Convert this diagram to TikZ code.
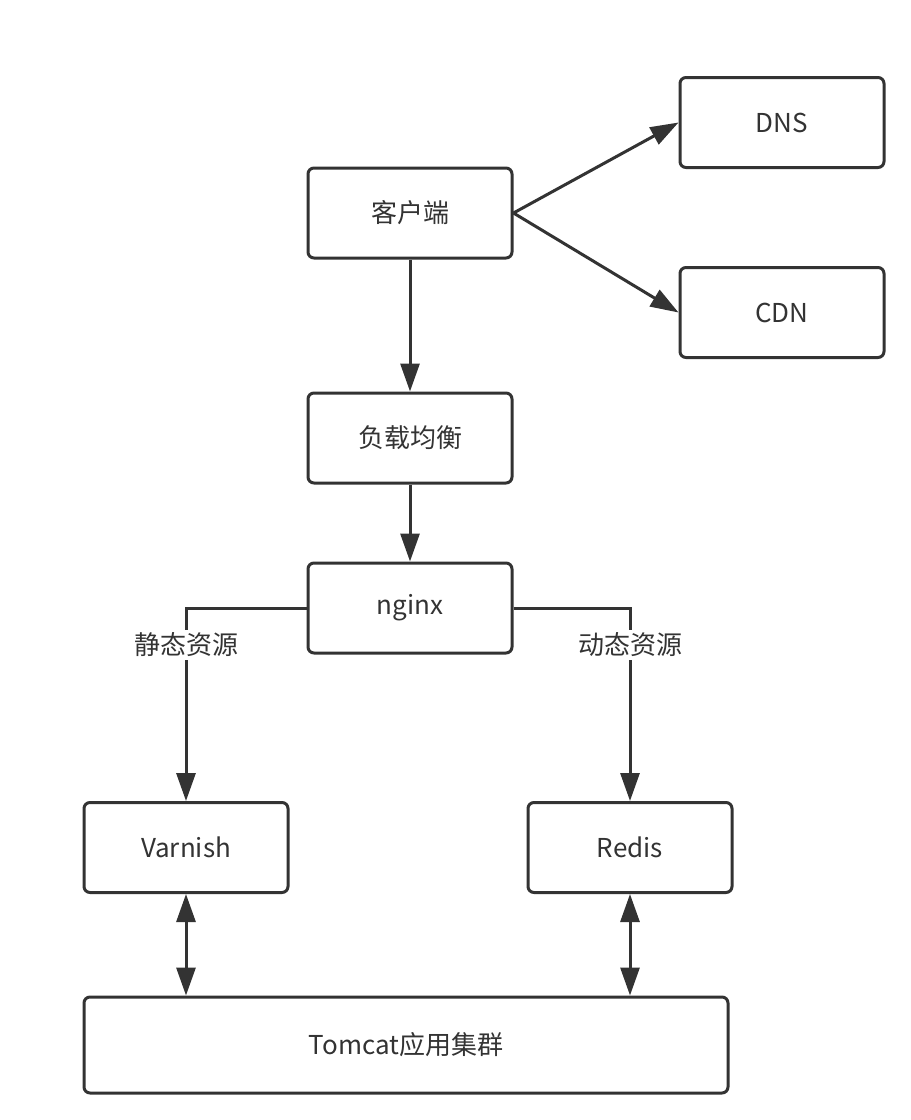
\documentclass[tikz,border=0pt]{standalone}
\usepackage{fontspec}
\setmainfont{Noto Sans CJK SC}
\usetikzlibrary{arrows.meta}
\definecolor{dark}{HTML}{333333}
\begin{document}
\begin{tikzpicture}[x=1pt,y=-1pt,
  box/.style={draw=dark, line width=3pt, rounded corners=6pt, fill=white, inner sep=0pt,
    minimum width=204pt, minimum height=90pt, font=\fontsize{26}{30}\selectfont, text=dark},
  conn/.style={draw=dark, line width=3pt, -{Triangle[length=28pt,width=19pt]}},
  dconn/.style={draw=dark, line width=3pt, {Triangle[length=28pt,width=19pt]}-{Triangle[length=28pt,width=19pt]}},
  lbl/.style={fill=white, inner sep=3pt, font=\fontsize{26}{30}\selectfont, text=dark}]
\useasboundingbox (0,0) rectangle (911,1120);
\node[box] (client) at (410,213) {客户端};
\node[box] (dns) at (782,122.5) {DNS};
\node[box] (cdn) at (782,312.5) {CDN};
\node[box] (lb) at (410,438) {负载均衡};
\node[box] (nginx) at (410,608) {nginx};
\node[box] (varnish) at (186,847.5) {Varnish};
\node[box] (redis) at (630,847.5) {Redis};
\node[box, minimum width=644pt, minimum height=96pt] (tomcat) at (406,1045) {Tomcat应用集群};
\coordinate (vl) at (186,608);
\coordinate (vr) at (630,608);
\draw[conn] (client.east) -- (dns.west);
\draw[conn] (client.east) -- (cdn.west);
\draw[conn] (client.south) -- (lb.north);
\draw[conn] (lb.south) -- (nginx.north);
\draw[conn] (nginx.west) -- (vl) -- (varnish.north);
\draw[conn] (nginx.east) -- (vr) -- (redis.north);
\node[lbl] (ls) at (186,645) {静态资源};
\node[lbl] (ld) at (630,645) {动态资源};
\draw[dconn] (varnish.south) -- (varnish.south |- tomcat.north);
\draw[dconn] (redis.south) -- (redis.south |- tomcat.north);
\end{tikzpicture}
\end{document}
